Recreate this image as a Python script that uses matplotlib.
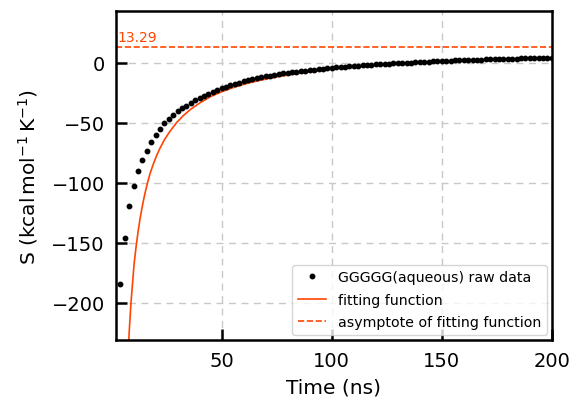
import numpy as np
import matplotlib
matplotlib.use("Agg")
import matplotlib.pyplot as plt

# raw data (every 2 ns)
time_raw = [4, 6, 8, 10, 12, 14, 16, 18, 20, 22, 24, 26, 28, 30, 32, 34, 36, 38,
            40, 42, 44, 46, 48, 50, 52, 54, 56, 58, 60, 62, 64, 66, 68, 70, 72,
            74, 76, 78, 80, 82, 84, 86, 88, 90, 92, 94, 96, 98, 100, 102, 104,
            106, 108, 110, 112, 114, 116, 118, 120, 122, 124, 126, 128, 130,
            132, 134, 136, 138, 140, 142, 144, 146, 148, 150, 152, 154, 156,
            158, 160, 162, 164, 166, 168, 170, 172, 174, 176, 178, 180, 182,
            184, 186, 188, 190, 192, 194, 196, 198, 200]
s_raw = [-184.4, -145.8, -119.0, -102.8, -89.7, -80.5, -73.0, -65.5, -59.7,
         -55.0, -50.3, -46.7, -43.3, -40.3, -37.8, -35.5, -33.0, -31.1, -29.2,
         -27.5, -25.8, -24.2, -22.5, -21.1, -19.7, -18.5, -17.4, -16.3, -15.3,
         -14.4, -13.5, -12.7, -11.9, -11.2, -10.5, -9.9, -9.3, -8.7, -8.2,
         -7.7, -7.2, -6.8, -6.3, -5.9, -5.5, -5.1, -4.7, -4.3, -3.9, -3.6,
         -3.3, -3.0, -2.7, -2.4, -2.2, -1.9, -1.7, -1.4, -1.2, -1.0, -0.8,
         -0.6, -0.4, -0.2, 0.0, 0.2, 0.4, 0.6, 0.8, 1.0, 1.1, 1.3, 1.5, 1.6,
         1.8, 1.9, 2.1, 2.2, 2.4, 2.5, 2.6, 2.8, 2.9, 3.0, 3.1, 3.2, 3.3, 3.4,
         3.5, 3.6, 3.7, 3.8, 3.9, 4.0, 4.1, 4.2, 4.3, 4.4, 4.5]

# fitting curve
time_fit = [7.6, 8.0, 8.8, 9.5, 10.2, 11.0, 12.0, 13.0, 14.0, 15.0, 16.3, 17.5,
            19.0, 20.5, 22.0, 24.0, 26.5, 29.4, 32.5, 36.0, 40.0, 45.0, 50.0,
            56.0, 62.0, 70.0, 77.0, 88.0, 100.0, 112.0, 125.0, 137.0, 150.0,
            162.0, 175.0, 187.0, 200.0]
s_fit = [-240.0, -224.0, -200.0, -184.0, -168.0, -155.0, -141.0, -129.0, -119.0,
         -110.0, -100.0, -92.0, -84.0, -77.0, -71.0, -64.0, -57.0, -50.0, -44.0,
         -38.5, -33.4, -28.0, -24.0, -20.0, -16.8, -13.4, -11.0, -7.8, -5.0,
         -3.2, -1.5, -0.1, 1.3, 2.2, 3.0, 3.7, 4.3]

asymptote = 13.29

plt.rcParams['font.family'] = 'DejaVu Sans'
fig = plt.figure(figsize=(5.76, 4.02), dpi=100)
ax = fig.add_axes([0.2014, 0.1517, 0.7566, 0.8183])

ax.plot(time_raw, s_raw, 'o', color='black', markersize=3.2,
        label='GGGGG(aqueous) raw data', zorder=3)
ax.plot(time_fit, s_fit, '-', color='#ff4500', lw=1.2,
        label='fitting function', zorder=2)
ax.axhline(asymptote, color='#ff4500', lw=1.2, ls='--',
           label='asymptote of fitting function')
ax.text(2.5, asymptote + 2.5, '%.2f' % asymptote, color='#ff4500',
        fontsize=10, va='bottom', ha='left')

ax.set_xlim(2, 200)
ax.set_ylim(-231, 43.3)
ax.set_xticks([50, 100, 150, 200])
ax.set_yticks([0, -50, -100, -150, -200])
ax.grid(True, ls=(0, (5, 4)), color='#c8c8c8', lw=1)
ax.set_axisbelow(True)

for sp in ax.spines.values():
    sp.set_linewidth(1.8)
ax.tick_params(direction='in', length=8, width=1.8, labelsize=14, pad=8)

ax.set_xlabel('Time (ns)', fontsize=14.5, labelpad=5)
ax.set_ylabel(r'S (kcal$\,$mol$^{-1}\,$K$^{-1}$)', fontsize=14.5, labelpad=8)

ax.legend(loc='lower right', fontsize=10.2, framealpha=0.8, borderaxespad=0.35,
          handlelength=2.0, labelspacing=0.6)

fig.savefig('out.png', dpi=100)
